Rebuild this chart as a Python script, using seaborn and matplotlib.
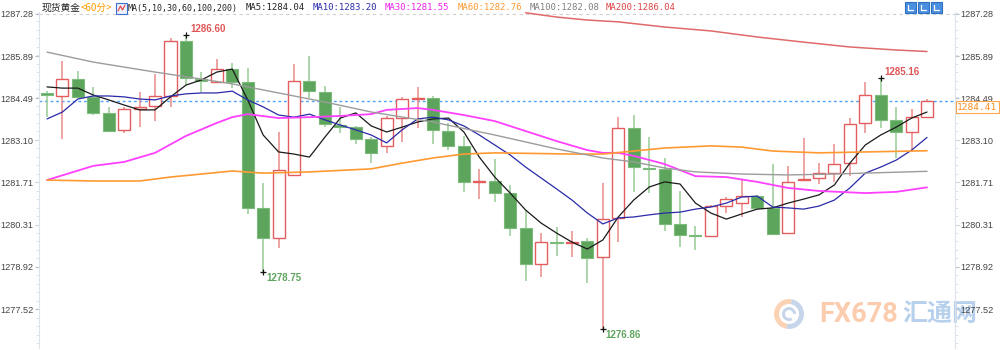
import numpy as np
import pandas as pd
import matplotlib
matplotlib.use("Agg")
import matplotlib.pyplot as plt
import seaborn as sns
from matplotlib.patches import Rectangle, Wedge
from matplotlib.transforms import IdentityTransform
from matplotlib.ticker import FixedLocator, AutoMinorLocator

# ---------------- data (60-minute spot gold candles) ----------------
opens = [1284.67, 1284.57, 1285.13, 1284.54, 1284.01, 1283.45, 1284.14, 1284.24, 1284.57, 1286.39,
         1285.13, 1285.03, 1285.46, 1285.03, 1280.87, 1279.88, 1281.96, 1285.07, 1284.70, 1283.61,
         1283.54, 1283.15, 1282.92, 1283.84, 1284.47, 1284.50, 1283.41, 1282.92, 1281.73, 1281.76,
         1281.36, 1280.21, 1279.02, 1279.74, 1279.71, 1279.78, 1279.25, 1280.54, 1283.51, 1282.19,
         1282.16, 1280.34, 1279.97, 1279.94, 1280.93, 1281.03, 1281.26, 1280.87, 1280.04, 1281.79,
         1281.86, 1282.02, 1282.35, 1283.68, 1284.60, 1283.78, 1283.38, 1283.87]
closes = [1284.59, 1285.13, 1284.54, 1284.01, 1283.41, 1284.14, 1284.21, 1284.57, 1286.39, 1285.16,
          1285.07, 1285.46, 1285.03, 1280.87, 1279.88, 1282.12, 1285.07, 1284.73, 1283.64, 1283.54,
          1283.15, 1282.69, 1283.84, 1284.47, 1284.50, 1283.45, 1282.92, 1281.73, 1281.76, 1281.36,
          1280.21, 1279.02, 1279.74, 1279.71, 1279.74, 1279.21, 1280.50, 1283.51, 1282.22, 1282.16,
          1280.34, 1279.97, 1279.94, 1280.93, 1281.16, 1281.26, 1280.87, 1280.01, 1281.73, 1281.83,
          1282.02, 1282.32, 1283.64, 1284.60, 1283.78, 1283.38, 1283.87, 1284.41]
highs = [1284.73, 1285.73, 1285.40, 1284.87, 1284.21, 1284.21, 1284.70, 1285.30, 1286.49, 1286.60,
         1285.36, 1285.79, 1285.66, 1285.50, 1281.69, 1283.38, 1285.63, 1285.89, 1284.90, 1284.21,
         1283.58, 1283.21, 1283.91, 1284.54, 1284.87, 1284.57, 1283.68, 1283.25, 1282.16, 1282.49,
         1281.63, 1280.80, 1280.04, 1280.24, 1280.11, 1279.88, 1281.69, 1283.87, 1283.94, 1283.21,
         1282.52, 1281.43, 1280.27, 1280.95, 1281.23, 1281.83, 1281.30, 1282.32, 1282.26, 1283.18,
         1282.35, 1282.98, 1283.84, 1285.03, 1285.16, 1284.21, 1284.14, 1284.48]
lows = [1283.87, 1283.15, 1284.50, 1283.94, 1283.40, 1283.35, 1283.54, 1283.74, 1284.21, 1284.93,
        1284.70, 1285.02, 1284.83, 1280.67, 1278.75, 1279.54, 1281.95, 1284.50, 1283.54, 1283.35,
        1282.98, 1282.35, 1282.69, 1283.05, 1283.51, 1282.98, 1282.78, 1281.40, 1281.16, 1281.07,
        1279.94, 1278.45, 1278.59, 1279.28, 1279.25, 1278.39, 1276.86, 1279.74, 1281.40, 1281.36,
        1280.11, 1279.58, 1279.48, 1279.92, 1280.70, 1280.57, 1280.85, 1280.00, 1280.02, 1281.78,
        1281.66, 1281.73, 1281.92, 1283.35, 1283.51, 1282.52, 1282.72, 1283.87]

ma5 = [1284.87, 1284.83, 1284.83, 1284.60, 1284.44, 1284.27, 1284.11, 1284.11, 1284.54, 1284.93,
       1285.10, 1285.36, 1285.46, 1284.44, 1283.28, 1282.72, 1282.65, 1282.55, 1283.21, 1283.84,
       1284.01, 1283.58, 1283.38, 1283.54, 1283.71, 1283.81, 1283.84, 1283.38, 1282.55, 1281.89,
       1281.36, 1280.80, 1280.37, 1280.04, 1279.74, 1279.51, 1279.81, 1280.57, 1281.13, 1281.56,
       1281.73, 1281.66, 1281.03, 1280.70, 1280.50, 1280.67, 1280.83, 1280.87, 1281.03, 1281.16,
       1281.30, 1281.63, 1282.35, 1282.95, 1283.28, 1283.54, 1283.84, 1284.04]
ma10 = [1283.81, 1284.04, 1284.47, 1284.57, 1284.57, 1284.54, 1284.47, 1284.44, 1284.57, 1284.64,
        1284.67, 1284.67, 1284.73, 1284.44, 1284.21, 1283.94, 1283.87, 1283.97, 1283.78, 1283.61,
        1283.45, 1283.28, 1283.02, 1283.45, 1283.81, 1283.87, 1283.78, 1283.58, 1283.28, 1282.95,
        1282.62, 1282.22, 1281.86, 1281.50, 1281.13, 1280.70, 1280.34, 1280.54, 1280.57, 1280.64,
        1280.70, 1280.73, 1280.83, 1280.90, 1281.03, 1281.23, 1281.26, 1280.90, 1280.87, 1280.83,
        1280.93, 1281.13, 1281.53, 1282.02, 1282.22, 1282.45, 1282.78, 1283.20]
ma30_idx = [0, 3, 5, 7, 9, 11, 12, 13, 15, 17, 19, 21, 22, 24, 25, 27, 29, 31, 33, 35, 36, 37,
            38, 40, 42, 44, 46, 48, 50, 53, 55, 57]
ma30 = [1281.79, 1282.26, 1282.39, 1282.69, 1283.25, 1283.68, 1283.87, 1283.97, 1283.84, 1283.87,
        1283.91, 1283.97, 1284.11, 1284.17, 1284.11, 1283.94, 1283.74, 1283.41, 1283.08, 1282.78,
        1282.69, 1282.69, 1282.59, 1282.32, 1281.92, 1281.89, 1281.73, 1281.53, 1281.43, 1281.36,
        1281.40, 1281.55]
ma60_idx = [0, 3, 6, 8, 10, 12, 14, 17, 21, 23, 25, 27, 29, 34, 36, 38, 40, 43, 45, 47, 50, 53, 57]
ma60 = [1281.79, 1281.76, 1281.76, 1281.89, 1281.99, 1282.09, 1282.02, 1282.06, 1282.16, 1282.35,
        1282.52, 1282.65, 1282.69, 1282.65, 1282.65, 1282.75, 1282.85, 1282.92, 1282.88, 1282.75,
        1282.69, 1282.72, 1282.76]
ma100_idx = [0, 3, 7, 10, 12, 14, 18, 21, 25, 29, 33, 36, 38, 40, 42, 45, 48, 51, 57]
ma100 = [1286.02, 1285.69, 1285.36, 1285.13, 1284.97, 1284.77, 1284.37, 1284.04, 1283.71, 1283.28,
         1282.82, 1282.52, 1282.39, 1282.19, 1282.06, 1281.99, 1281.96, 1281.99, 1282.08]
ma200_idx = [31, 33, 35, 37, 40, 43, 46, 49, 52, 55, 57]
ma200 = [1287.32, 1287.18, 1287.08, 1287.02, 1286.85, 1286.72, 1286.52, 1286.35, 1286.19, 1286.09, 1286.04]

y_ticks = [1277.52, 1278.92, 1280.31, 1281.71, 1283.10, 1284.49, 1285.89, 1287.28]
y_tick_labels = ["1277.52", "1278.92", "1280.31", "1281.71", "1283.10", "1284.49", "1285.89", "1287.28"]
last_price = 1284.41
title_name = "现货黄金"
title_period = "<60分>"
legend_items = [("MA(5,10,30,60,100,200)", "#222222"), ("MA5:1284.04", "#222222"),
                ("MA10:1283.20", "#2a2aa8"), ("MA30:1281.55", "#ee22ee"),
                ("MA60:1282.76", "#ff9933"), ("MA100:1282.08", "#808080"),
                ("MA200:1286.04", "#e04444")]
extremes = [(9, 1286.60, "1286.60", "high"), (14, 1278.75, "1278.75", "low"),
            (36, 1276.86, "1276.86", "low"), (54, 1285.16, "1285.16", "high")]

# ---------------- figure ----------------
sns.set_style("white")
plt.rcParams['font.family'] = ['Liberation Sans', 'Noto Sans CJK SC', 'DejaVu Sans']

fig = plt.figure(figsize=(10, 3.5), dpi=100)
fig.patch.set_facecolor("white")
ax = fig.add_axes([0.039, 0.00571, 0.916, 0.96])
ax.patch.set_alpha(0)

o = np.array(opens); c = np.array(closes); h = np.array(highs); l = np.array(lows)
idx = np.arange(len(c))
up = c >= o

RED = "#e35d5d"; RED_W = "#ec8a8a"
GREEN = "#5da55d"; GREEN_E = "#7dbb7d"; GREEN_W = "#96cc96"

ax.vlines(idx[up], l[up], h[up], color=RED_W, lw=1.1, zorder=2)
ax.vlines(idx[~up], l[~up], h[~up], color=GREEN_W, lw=1.1, zorder=2)
ax.bar(idx[up], np.maximum(c[up] - o[up], 0.02), bottom=o[up], width=0.78,
       facecolor="white", edgecolor=RED, lw=1.0, zorder=3)
ax.bar(idx[~up], np.maximum(o[~up] - c[~up], 0.02), bottom=c[~up], width=0.78,
       facecolor=GREEN, edgecolor=GREEN_E, lw=0.8, zorder=3)

# moving averages via seaborn
lines = [
    (idx, ma5, "#1a1a1a", 0.9),
    (idx, ma10, "#2a2aa8", 0.9),
    (ma30_idx, ma30, "#ff40ff", 1.3),
    (ma60_idx, ma60, "#ff9a33", 1.2),
    (ma100_idx, ma100, "#9c9c9c", 1.0),
    (ma200_idx, ma200, "#e06a6a", 1.1),
]
for xs, ys, col, lw in lines:
    df = pd.DataFrame({"x": list(xs), "y": list(ys)})
    sns.lineplot(data=df, x="x", y="y", ax=ax, color=col, lw=lw, zorder=4,
                 estimator=None, sort=False, legend=False)

# last price dashed line and top dashed border
ax.axhline(last_price, color="#4da3ff", lw=1.0, ls=(0, (2, 2)), zorder=1)
ax.axhline(1287.28, color="#cfcfcf", lw=0.8, ls=(0, (3, 3)), zorder=1)

# extremes
for xi, val, txt, kind in extremes:
    ax.plot([xi], [val], marker="+", color="#111111", ms=5, mew=0.9, zorder=5)
    if kind == "high":
        ax.annotate(txt, (xi, val), xytext=(4, 1), textcoords="offset pixels",
                    color="#e05555", fontsize=7, fontweight="bold", ha="left", va="bottom")
    else:
        ax.annotate(txt, (xi, val), xytext=(3, -1), textcoords="offset pixels",
                    color="#5da55d", fontsize=7, fontweight="bold", ha="left", va="top")

# axes limits / ticks
ax.set_xlim(-0.518, 58.81)
ax.set_ylim(1276.239, 1287.346)
ax.set_xlabel(""); ax.set_ylabel("")
ax.set_xticks([])
ax.yaxis.set_major_locator(FixedLocator(y_ticks))
ax.set_yticklabels(y_tick_labels)
ax.yaxis.set_minor_locator(AutoMinorLocator(5))
ax.tick_params(axis="y", which="major", left=True, right=True, labelleft=True, labelright=True,
               labelsize=6.6, labelcolor="#444444", color="#b8c0cc", length=3, width=0.8, pad=1)
ax.tick_params(axis="y", which="minor", left=True, right=True, color="#d8dde5", length=2, width=0.6)
for s in ["top", "bottom"]:
    ax.spines[s].set_visible(False)
for s in ["left", "right"]:
    ax.spines[s].set_color("#dde3ea")
    ax.spines[s].set_linewidth(0.8)

# last price box on right (sits just below the 1284.49 tick label, as in the source)
fig.text(0.957, 1 - 107 / 350, f"{last_price:.2f}", color="#ff8c1a", fontsize=6.8,
         family="DejaVu Sans Mono", va="center", ha="left",
         bbox=dict(boxstyle="square,pad=0.15", fc="white", ec="#ffa64d", lw=0.8))

# header legend
ty = 1 - 8 / 350
fig.text(0.042, ty, title_name, fontsize=7, color="#222222", va="center", ha="left",
         family=["Noto Sans CJK SC", "DejaVu Sans"])
fig.text(0.081, ty, title_period, fontsize=7, color="#ff9900", va="center", ha="left",
         family=["Noto Sans CJK SC", "DejaVu Sans"])
xpos = [128, 246, 313, 385, 458, 530, 606]
sizes = [6.0, 6.5, 6.5, 6.5, 6.5, 6.5, 6.5]
for (txt, col), xp, fs in zip(legend_items, xpos, sizes):
    fig.text(xp / 1000, ty, txt, fontsize=fs, color=col, va="center", ha="left",
             family="DejaVu Sans Mono")

IT = IdentityTransform()
# small indicator icon
fig.add_artist(Rectangle((116, 336), 11, 11, transform=IT, fc="#eaf2ff", ec="#3a6fd0", lw=0.8))
fig.add_artist(plt.Line2D([118, 120.5, 122.5, 125], [339, 344, 340, 345], transform=IT,
                          color="#e04040", lw=0.8))
# top-right tool icons
for x0 in [905, 918, 931]:
    fig.add_artist(Rectangle((x0, 337), 11, 11, transform=IT, fc="#4a8fe0", ec="#2f6fc0", lw=0.8))
    fig.add_artist(plt.Line2D([x0 + 3, x0 + 3, x0 + 8], [345, 340, 340], transform=IT,
                              color="white", lw=0.9))

# watermark
fig.add_artist(Wedge((789, 36), 15, 80, 260, width=5, transform=IT, fc="#fbc8a2", ec="none",
                     alpha=0.8, zorder=-2))
fig.add_artist(Wedge((789, 36), 15, 260, 440, width=5, transform=IT, fc="#b9cbe6", ec="none",
                     alpha=0.8, zorder=-2))
fig.add_artist(Wedge((789, 36), 7, 0, 300, width=3, transform=IT, fc="#b9cbe6", ec="none",
                     alpha=0.8, zorder=-2))
fig.text(0.819, 1 - 314 / 350, "FX678", fontsize=19.5, fontweight="bold", color="#fbc3a0",
         family="Roboto", va="center", ha="left", alpha=0.85, zorder=-1)
fig.text(0.902, 1 - 314 / 350, "汇通网", fontsize=18, fontweight="bold", color="#abc8e8",
         family=["Noto Sans CJK SC", "DejaVu Sans"], va="center", ha="left", alpha=0.85, zorder=-1)

fig.savefig("out.png", dpi=100, facecolor="white")
